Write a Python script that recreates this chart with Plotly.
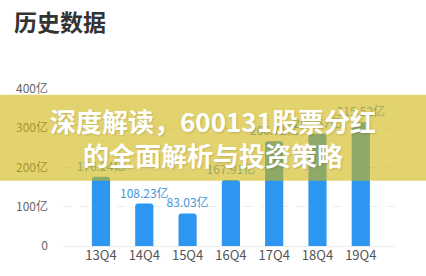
import plotly.graph_objects as go

categories = ["13Q4", "14Q4", "15Q4", "16Q4", "17Q4", "18Q4", "19Q4"]
values = [176.24, 108.23, 83.03, 167.91, 266.71, 285.67, 315.52]
tick_vals = [0, 100, 200, 300, 400]
tick_text = ["0", "100亿", "200亿", "300亿", "400亿"]
labels = [f"{v:.2f}亿" for v in values]

FONT = "Noto Sans CJK SC"

fig = go.Figure()
fig.add_trace(go.Bar(
    x=categories, y=values, text=labels, textposition="outside",
    constraintext="none",
    textfont=dict(color="#4596dc", size=12, family=FONT),
    cliponaxis=False,
    marker=dict(color="#2d96f0", cornerradius=3, line=dict(width=0)),
    width=0.42,
))

fig.update_layout(
    width=426, height=276,
    margin=dict(l=63, r=31, t=89, b=26),
    paper_bgcolor="white", plot_bgcolor="white",
    showlegend=False,
    font=dict(family=FONT),
    xaxis=dict(range=[-0.877, 6.79], showgrid=False, zeroline=False, showline=False,
               ticks="", tickfont=dict(size=13, color="#555"), fixedrange=True),
    yaxis=dict(range=[0, 400], tickvals=tick_vals, ticktext=tick_text,
               showgrid=True, gridcolor="#ececec", griddash="dash", gridwidth=1,
               zeroline=True, zerolinecolor="#ececec", zerolinewidth=1,
               showline=False, ticks="", ticklabelstandoff=14,
               tickfont=dict(size=12, color="#666")),
    shapes=[dict(type="rect", xref="paper", yref="paper",
                 x0=-0.2, x1=1.1, y0=0.416, y1=0.963,
                 fillcolor="rgba(208,182,13,0.6)", line=dict(width=0), layer="above")],
    annotations=[
        dict(text="历史数据", xref="paper", yref="paper", x=-0.154, y=1.435,
             xanchor="left", yanchor="middle", showarrow=False,
             font=dict(size=23, color="#333", family=FONT, weight=600)),
        dict(text="深度解读，600131股票分红<br>的全面解析与投资策略", xref="paper", yref="paper",
             x=0.452, y=0.6925, xanchor="center", yanchor="middle", showarrow=False,
             align="center",
             font=dict(size=26, color="white", family=FONT, weight="bold",
                       shadow="1px 1px 2px rgba(0,0,0,0.15)")),
    ],
)

fig.write_html("out.html")
